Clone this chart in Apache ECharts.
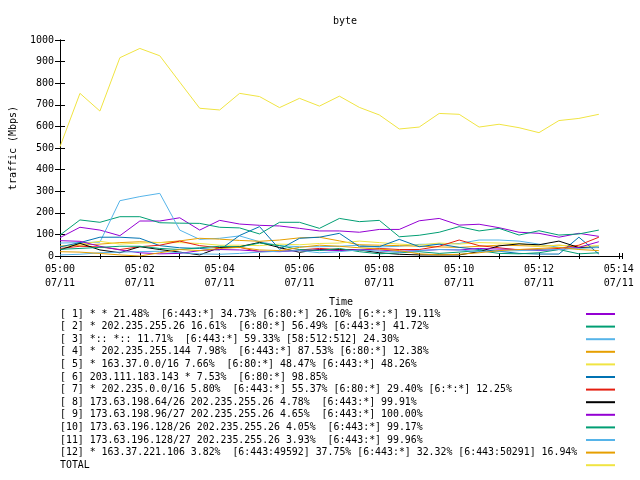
<!DOCTYPE html>
<html>
<head>
<meta charset="utf-8">
<script src="https://cdn.jsdelivr.net/npm/echarts@6/dist/echarts.min.js"></script>
<style>html,body{margin:0;padding:0;background:#fff;}#c{width:640px;height:480px;}</style>
</head>
<body>
<div id="c"></div>
<script>
const times = ['05:00:00','05:00:30','05:01:00','05:01:30','05:02:00','05:02:30','05:03:00','05:03:30',
  '05:04:00','05:04:30','05:05:00','05:05:30','05:06:00','05:06:30','05:07:00','05:07:30',
  '05:08:00','05:08:30','05:09:00','05:09:30','05:10:00','05:10:30','05:11:00','05:11:30',
  '05:12:00','05:12:30','05:13:00','05:13:30'];
const xTickLabels = ['05:00','05:02','05:04','05:06','05:08','05:10','05:12','05:14'];
const dateLabel = '07/11';
const yTicks = [0,100,200,300,400,500,600,700,800,900,1000];

const names = [
  '[ 1] * * 21.48%  [6:443:*] 34.73% [6:80:*] 26.10% [6:*:*] 19.11%',
  '[ 2] * 202.235.255.26 16.61%  [6:80:*] 56.49% [6:443:*] 41.72%',
  '[ 3] *:: *:: 11.71%  [6:443:*] 59.33% [58:512:512] 24.30%',
  '[ 4] * 202.235.255.144 7.98%  [6:443:*] 87.53% [6:80:*] 12.38%',
  '[ 5] * 163.37.0.0/16 7.66%  [6:80:*] 48.47% [6:443:*] 48.26%',
  '[ 6] 203.111.183.143 * 7.53%  [6:80:*] 98.85%',
  '[ 7] * 202.235.0.0/16 5.80%  [6:443:*] 55.37% [6:80:*] 29.40% [6:*:*] 12.25%',
  '[ 8] 173.63.198.64/26 202.235.255.26 4.78%  [6:443:*] 99.91%',
  '[ 9] 173.63.198.96/27 202.235.255.26 4.65%  [6:443:*] 100.00%',
  '[10] 173.63.196.128/26 202.235.255.26 4.05%  [6:443:*] 99.17%',
  '[11] 173.63.196.128/27 202.235.255.26 3.93%  [6:443:*] 99.96%',
  '[12] * 163.37.221.106 3.82%  [6:443:49592] 37.75% [6:443:*] 32.32% [6:443:50291] 16.94%',
  'TOTAL'
];

const s1 = [85,133,120,94,162,162,177,120,165,148,142,139,128,116,116,110,123,123,163,174,143,147,131,110,105,87,105,91];
const s2 = [97,167,156,182,182,154,152,151,133,130,102,156,156,128,174,159,165,89,96,110,136,116,128,97,117,97,102,120];
const s3 = [60,62,64,256,275,290,120,77,82,93,66,48,43,43,45,50,42,45,54,55,58,74,74,69,55,40,38,45];
const s4 = [45,50,55,62,66,62,70,82,78,72,68,74,84,87,70,52,50,48,45,42,40,45,50,48,45,50,42,40];
const s5 = [45,55,68,55,60,62,62,58,50,50,48,55,52,58,60,69,62,55,50,60,55,62,60,58,45,50,45,48];
const s6 = [42,62,87,87,82,48,38,35,28,95,136,31,82,87,105,43,43,77,43,55,40,30,22,12,9,9,87,9];
const s7 = [35,45,42,30,43,50,69,48,38,40,20,22,28,35,30,28,35,30,30,45,74,48,38,28,30,35,50,87];
const s8 = [28,59,28,15,43,30,18,5,39,43,63,39,17,30,28,28,15,8,5,5,5,20,47,56,52,69,39,39];
const s9 = [71,68,45,28,15,10,12,25,30,28,22,20,25,28,25,30,28,22,25,30,28,35,32,30,25,30,40,66];
const s10 = [31,35,40,45,45,35,30,38,45,42,60,48,30,25,35,20,10,15,20,12,18,25,12,10,15,30,10,15];
const s11 = [5,8,15,18,20,22,15,10,8,12,18,22,25,15,20,28,22,18,25,30,28,20,22,25,28,30,35,40];
const s12 = [20,18,12,5,0,15,30,25,35,40,28,25,40,50,45,38,32,25,10,5,8,15,25,30,35,40,30,25];
const total = [506,753,671,918,961,927,805,684,676,753,738,687,730,694,740,688,653,588,597,660,656,597,610,594,571,627,637,656];

const colors = ['#9400d3','#009e73','#56b4e9','#e69f00','#f0e442','#0072b2','#e51e10','#000000',
  '#9400d3','#009e73','#56b4e9','#e69f00','#f0e442'];
const allSeries = [s1,s2,s3,s4,s5,s6,s7,s8,s9,s10,s11,s12,total];

function toMin(t){ const p = t.split(':').map(Number); return (p[0]-5)*60 + p[1] + p[2]/60; }

const FONT = 'DejaVu Sans Mono';
const chart = echarts.init(document.getElementById('c'), null, {renderer:'canvas'});

const xCommon = {
  type:'value', min:0, max:14.08, interval:1,
  axisLine:{show:true, lineStyle:{color:'#000', width:1}},
  axisTick:{show:true, inside:true, length:3, lineStyle:{color:'#000'}},
  splitLine:{show:false}
};
const yCommon = {
  type:'value', min:yTicks[0], max:yTicks[yTicks.length-1], interval:yTicks[1]-yTicks[0],
  axisLine:{show:true, lineStyle:{color:'#000', width:1}},
  axisTick:{show:true, inside:true, length:5, lineStyle:{color:'#000'}},
  splitLine:{show:false}
};

chart.setOption({
  animation:false,
  color: colors,
  textStyle:{fontFamily:FONT, color:'#000'},
  title:{text:'byte', left:340, top:11, textAlign:'center',
    textStyle:{fontFamily:FONT, fontSize:10, fontWeight:'normal', color:'#000'}},
  grid:{left:58, right:18, top:40, bottom:224, containLabel:false},
  xAxis:[
    Object.assign({}, xCommon, {position:'bottom', name:'Time', nameLocation:'middle', nameGap:41,
      nameTextStyle:{fontFamily:FONT, fontSize:10, color:'#000'},
      axisLabel:{show:true, margin:6, fontFamily:FONT, fontSize:10, color:'#000', lineHeight:14,
        formatter:function(v){
          const r = Math.round(v);
          if (Math.abs(v-r) > 1e-6 || r % 2 !== 0) return '';
          const lab = xTickLabels[r/2];
          return lab ? lab + '\n' + dateLabel : '';
        }}}),
    Object.assign({}, xCommon, {position:'top', axisLabel:{show:false}})
  ],
  yAxis:[
    Object.assign({}, yCommon, {position:'left', name:'traffic (Mbps)', nameLocation:'middle', nameGap:42,
      nameRotate:90,
      nameTextStyle:{fontFamily:FONT, fontSize:10, color:'#000'},
      axisLabel:{show:true, margin:6, fontFamily:FONT, fontSize:10, color:'#000',
        formatter:function(v){ return String(v); }}}),
    Object.assign({}, yCommon, {position:'right', axisLabel:{show:false}})
  ],
  legend:{
    orient:'vertical', left:60, top:309, padding:0, itemGap:2.6,
    align:'right', itemWidth:29, itemHeight:12, selectedMode:false,
    itemStyle:{opacity:0},
    data:names,
    formatter:function(n){ return '{t|' + n + '}'; },
    textStyle:{fontFamily:FONT, fontSize:9.9, color:'#000',
      rich:{t:{width:521, align:'left', fontFamily:FONT, fontSize:9.9, color:'#000'}}}
  },
  series: allSeries.map(function(vals, k){
    return {
      name:names[k], type:'line', xAxisIndex:0, yAxisIndex:0,
      symbol:'none', showSymbol:false, smooth:false,
      lineStyle:{width:1, color:colors[k]}, itemStyle:{color:colors[k]},
      emphasis:{disabled:true},
      data: times.map(function(t,i){ return [toMin(t), vals[i]]; })
    };
  })
});
</script>
</body>
</html>
